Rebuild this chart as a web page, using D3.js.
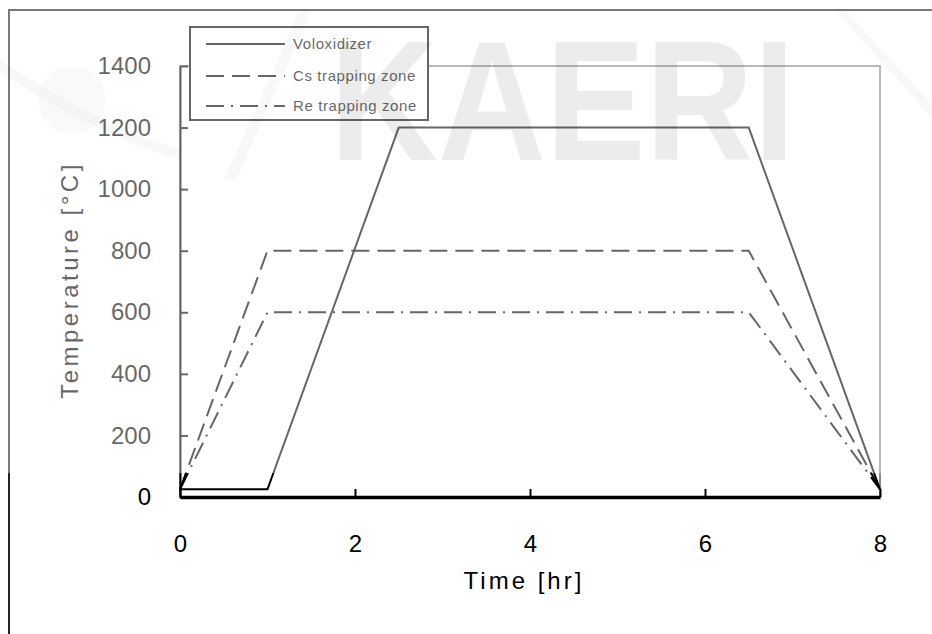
<!DOCTYPE html>
<html>
<head>
<meta charset="utf-8">
<script src="https://cdn.jsdelivr.net/npm/d3@7"></script>
<style>
  body { margin: 0; background: #fff; }
  text { font-family: "Liberation Sans", Arial, sans-serif; }
</style>
</head>
<body>
<div id="chart"></div>
<script>
// series data
var voloxTime = [0, 1, 2.5, 6.5, 8];
var voloxTemp = [25, 25, 1200, 1200, 25];
var csTime = [0, 1, 6.5, 8];
var csTemp = [25, 800, 800, 25];
var reTime = [0, 1, 6.5, 8];
var reTemp = [25, 600, 600, 25];
var seriesNames = ["Voloxidizer", "Cs trapping zone", "Re trapping zone"];
var xTicks = [0, 2, 4, 6, 8];
var yTicks = [0, 200, 400, 600, 800, 1000, 1200, 1400];

var width = 932, height = 634;

var svg = d3.select("#chart").append("svg")
  .attr("width", width).attr("height", height);

var x = d3.scaleLinear().domain([0, 8]).range([180, 880]);
var y = d3.scaleLinear().domain([0, 1400]).range([497, 66]);

// outer frame (left + top only, the rest is cut)
svg.append("path")
  .attr("d", "M9,634 L9,10 L932,10")
  .attr("fill", "none").attr("stroke", "#222").attr("stroke-width", 2);

// plot frame
svg.append("rect")
  .attr("x", x(0)).attr("y", y(1400))
  .attr("width", x(8) - x(0)).attr("height", y(0) - y(1400))
  .attr("fill", "none").attr("stroke", "#8a8a8a").attr("stroke-width", 2);

// series lines
var line = d3.line().x(d => x(d[0])).y(d => y(d[1]));
var series = [
  { pts: d3.zip(voloxTime, voloxTemp), dash: null },
  { pts: d3.zip(csTime, csTemp), dash: "18,8" },
  { pts: d3.zip(reTime, reTemp), dash: "18,7,2,7" }
];
series.forEach(function(s){
  svg.append("path")
    .datum(s.pts)
    .attr("d", line)
    .attr("fill", "none")
    .attr("stroke", "#000")
    .attr("stroke-width", 2)
    .attr("stroke-dasharray", s.dash);
});

// y axis
var yAxis = svg.append("g")
  .attr("transform", "translate(" + x(0) + ",0)")
  .call(d3.axisLeft(y).tickValues(yTicks).tickFormat(d3.format("d"))
    .tickSizeInner(-8).tickSizeOuter(0).tickPadding(29));
yAxis.select(".domain").attr("stroke", "#000").attr("stroke-width", 2);
yAxis.selectAll(".tick line").attr("stroke", "#000").attr("stroke-width", 2);
yAxis.selectAll("text").attr("font-size", 24).attr("fill", "#000")
  .attr("font-family", "Liberation Sans, Arial, sans-serif");

// x axis
var xAxis = svg.append("g")
  .attr("transform", "translate(0," + y(0) + ")")
  .call(d3.axisBottom(x).tickValues(xTicks).tickFormat(d3.format("d"))
    .tickSizeInner(-8).tickSizeOuter(0).tickPadding(38));
xAxis.select(".domain").attr("stroke", "#000").attr("stroke-width", 3.5);
xAxis.selectAll(".tick line").attr("stroke", "#000").attr("stroke-width", 2);
xAxis.selectAll("text").attr("font-size", 24).attr("fill", "#000")
  .attr("font-family", "Liberation Sans, Arial, sans-serif");

// axis titles
svg.append("text")
  .attr("transform", "translate(78,280) rotate(-90)")
  .attr("text-anchor", "middle")
  .attr("font-size", 24).attr("letter-spacing", 3.5)
  .attr("fill", "#000")
  .text("Temperature [°C]");
svg.append("text")
  .attr("x", 524).attr("y", 589)
  .attr("text-anchor", "middle")
  .attr("font-size", 24).attr("letter-spacing", 3)
  .attr("fill", "#000")
  .text("Time [hr]");

// legend
var legend = svg.append("g");
legend.append("rect")
  .attr("x", 190).attr("y", 27).attr("width", 238).attr("height", 93)
  .attr("fill", "#fff").attr("stroke", "#000").attr("stroke-width", 2);
var legendY = [44, 76, 106];
seriesNames.forEach(function(name, i){
  legend.append("line")
    .attr("x1", 206).attr("x2", 285)
    .attr("y1", legendY[i]).attr("y2", legendY[i])
    .attr("stroke", "#000").attr("stroke-width", 2)
    .attr("stroke-dasharray", series[i].dash);
  legend.append("text")
    .attr("x", 293).attr("y", legendY[i] + 5)
    .attr("font-size", 15).attr("letter-spacing", 0.6)
    .attr("fill", "#000")
    .text(name);
});

// the upper part of the picture is washed out
svg.append("rect")
  .attr("x", 0).attr("y", 0).attr("width", width).attr("height", 473)
  .attr("fill", "#fff").attr("opacity", 0.4);

// watermark
var wm = svg.append("g").attr("fill", "#000").attr("opacity", 0.075);
wm.append("text")
  .attr("x", 330).attr("y", 160)
  .attr("font-size", 170).attr("font-weight", "bold")
  .attr("textLength", 465).attr("lengthAdjust", "spacingAndGlyphs")
  .text("KAERI");
wm.append("circle").attr("cx", 72).attr("cy", 100).attr("r", 34).attr("opacity", 0.3);
wm.append("path")
  .attr("d", "M0,60 Q90,120 180,150 L180,160 Q90,132 0,72 Z").attr("opacity", 0.4);
wm.append("path").attr("d", "M300,10 L312,10 L236,180 L224,180 Z").attr("opacity", 0.4);
wm.append("path").attr("d", "M835,10 L845,10 L932,105 L932,118 Z").attr("opacity", 0.4);
</script>
</body>
</html>
